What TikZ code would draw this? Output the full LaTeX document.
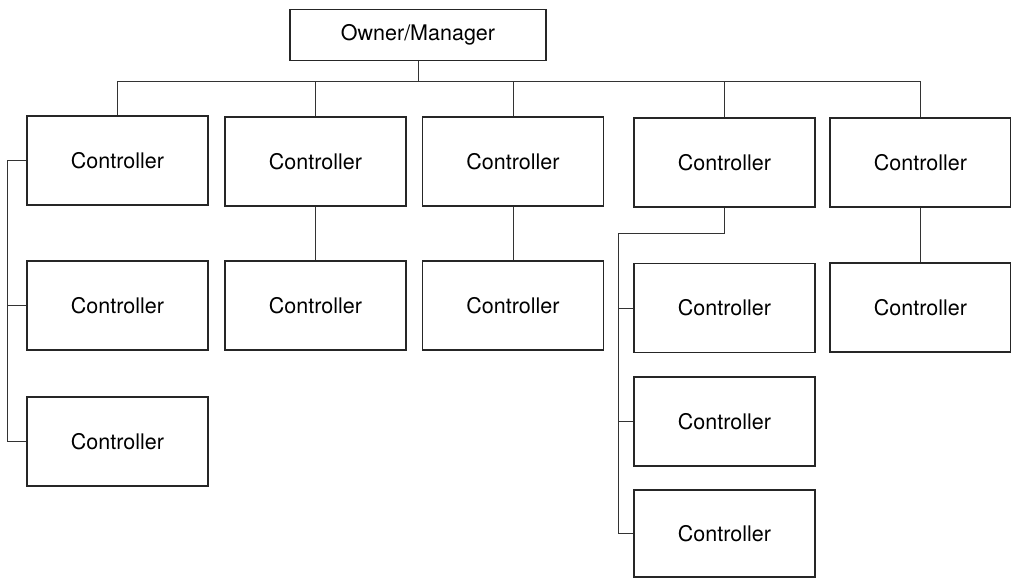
\documentclass[tikz,border=0pt]{standalone}
\usepackage{fontspec}
\setmainfont{TeX Gyre Heros}
\begin{document}
\begin{tikzpicture}[x=1pt,y=-1pt,
  unit/.style={draw=black!85,line width=1.3pt,minimum width=181pt,minimum height=89pt,
    inner sep=0pt,font=\fontsize{21.5}{25}\selectfont},
  link/.style={draw=black!80,line width=1pt}]
\useasboundingbox (0,0) rectangle (1011,578);

% top of the chart
\node[unit,minimum width=256pt,minimum height=51pt] (own) at (418,35) {Owner/Manager};

% first row
\node[unit] (a1) at (117.5,160.5) {Controller};
\node[unit] (b1) at (315.5,161.5) {Controller};
\node[unit] (c1) at (513,161.5) {Controller};
\node[unit] (d1) at (724.5,162.5) {Controller};
\node[unit] (e1) at (920.5,162.5) {Controller};

% lower rows
\node[unit] (a2) at (117.5,305.5) {Controller};
\node[unit] (a3) at (117.5,441.5) {Controller};
\node[unit] (b2) at (315.5,305.5) {Controller};
\node[unit] (c2) at (513,305.5) {Controller};
\node[unit] (d2) at (724.5,308) {Controller};
\node[unit] (d3) at (724.5,421.5) {Controller};
\node[unit,minimum height=87pt] (d4) at (724.5,533.5) {Controller};
\node[unit] (e2) at (920.5,307.5) {Controller};

% helper coordinates for the bus and brackets
\coordinate (bus) at (0,81);
\coordinate (lb) at (7,0);
\coordinate (dk) at (618,233);

% bus from the owner to the first row
\draw[link] (own.south) -- (own.south |- bus);
\draw[link] (a1.north) -- (a1.north |- bus) -- (e1.north |- bus) -- (e1.north);
\draw[link] (b1.north) -- (b1.north |- bus);
\draw[link] (c1.north) -- (c1.north |- bus);
\draw[link] (d1.north) -- (d1.north |- bus);

% first column bracket
\draw[link] (a1.west) -- (a1.west -| lb) -- (a3.west -| lb) -- (a3.west);
\draw[link] (a2.west) -- (a2.west -| lb);

% straight drops
\draw[link] (b1.south) -- (b2.north);
\draw[link] (c1.south) -- (c2.north);
\draw[link] (e1.south) -- (e2.north);

% fourth column bracket
\draw[link] (d1.south) -- (d1.south |- dk) -- (dk) -- (d4.west -| dk) -- (d4.west);
\draw[link] (d2.west) -- (d2.west -| dk);
\draw[link] (d3.west) -- (d3.west -| dk);
\end{tikzpicture}
\end{document}
